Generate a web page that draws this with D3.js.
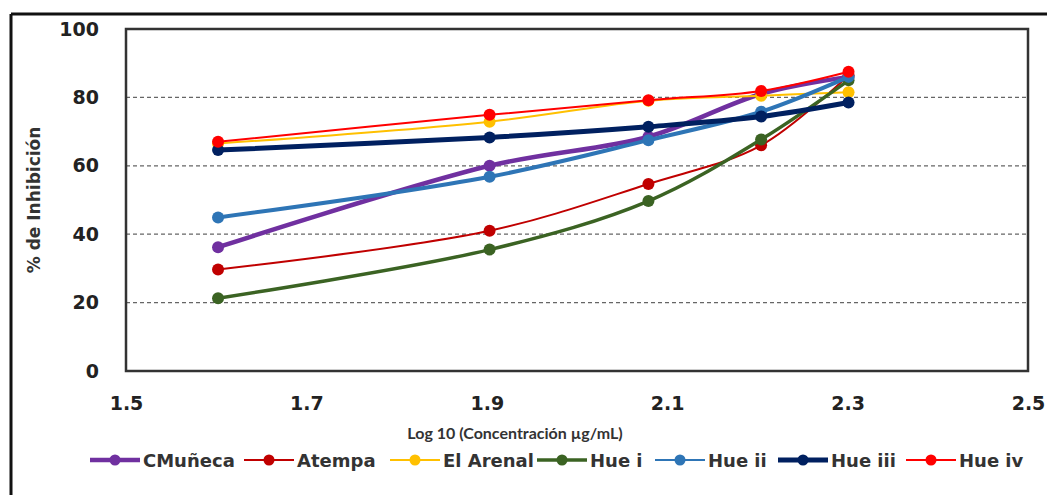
<!DOCTYPE html>
<html>
<head>
<meta charset="utf-8">
<script src="https://cdn.jsdelivr.net/npm/d3@7"></script>
<style>
  body { margin: 0; background: #fff; }
  svg { display: block; font-family: "DejaVu Sans", sans-serif; }
</style>
</head>
<body>
<svg width="1047" height="495"></svg>
<script>
// concentrations (µg/mL) -> log10 on x axis
const concentrations = [40, 80, 120, 160, 200];
const seriesNames = ["CMuñeca", "Atempa", "El Arenal", "Hue i", "Hue ii", "Hue iii", "Hue iv"];
const cMuneca = [36.2, 60.0, 68.5, 81.0, 86.0];
const atempa = [29.7, 41.0, 54.7, 66.0, 86.5];
const elArenal = [66.5, 72.9, 79.0, 80.5, 81.5];
const hueI = [21.3, 35.5, 49.7, 67.7, 85.0];
const hueII = [44.9, 56.8, 67.5, 75.8, 86.0];
const hueIII = [64.6, 68.3, 71.4, 74.4, 78.5];
const hueIV = [67.0, 74.9, 79.2, 81.9, 87.5];
const xTicks = [1.5, 1.7, 1.9, 2.1, 2.3, 2.5];
const yTicks = [0, 20, 40, 60, 80, 100];

const seriesValues = [cMuneca, atempa, elArenal, hueI, hueII, hueIII, hueIV];
const colors = ["#7030A0", "#C00000", "#FFC000", "#3B6323", "#2E75B6", "#002060", "#FF0000"];
const widths = [4.5, 2, 2, 3.5, 4, 5, 2];
const legendWidths = [4.5, 2, 2, 3.5, 2, 5, 2];

const svg = d3.select("svg");
const margin = { top: 29, right: 19, bottom: 124, left: 126 };
const width = 1047, height = 495;

// outer frame (only left and top edges visible)
svg.append("line").attr("x1", 11).attr("x2", 1047).attr("y1", 14).attr("y2", 14)
    .attr("stroke", "#111").attr("stroke-width", 3);
svg.append("line").attr("x1", 11).attr("x2", 11).attr("y1", 14).attr("y2", 495)
    .attr("stroke", "#111").attr("stroke-width", 3);

const x = d3.scaleLinear().domain([1.5, 2.5]).range([margin.left, width - margin.right]);
const y = d3.scaleLinear().domain([0, 100]).range([height - margin.bottom, margin.top]);

// dashed gridlines
svg.append("g").selectAll("line")
    .data(yTicks.filter(d => d > 0 && d < 100))
    .enter().append("line")
    .attr("x1", x(1.5)).attr("x2", x(2.5))
    .attr("y1", d => y(d)).attr("y2", d => y(d))
    .attr("stroke", "#666").attr("stroke-width", 1.2)
    .attr("stroke-dasharray", "4,3");

// plot area border
svg.append("rect")
    .attr("x", x(1.5)).attr("y", y(100))
    .attr("width", x(2.5) - x(1.5)).attr("height", y(0) - y(100))
    .attr("fill", "none").attr("stroke", "#333").attr("stroke-width", 2.5);

// axes (labels only)
const yAxis = svg.append("g")
    .attr("transform", `translate(${margin.left},0)`)
    .call(d3.axisLeft(y).tickValues(yTicks).tickSize(0).tickPadding(27))
    .attr("font-family", "DejaVu Sans");
yAxis.select(".domain").remove();
yAxis.selectAll("text").style("font-size", "19px").style("font-weight", "bold").attr("fill", "#222");

const xAxis = svg.append("g")
    .attr("transform", `translate(0,${height - margin.bottom})`)
    .call(d3.axisBottom(x).tickValues(xTicks).tickFormat(d3.format(".1f")).tickSize(0).tickPadding(26))
    .attr("font-family", "DejaVu Sans");
xAxis.select(".domain").remove();
xAxis.selectAll("text").style("font-size", "19px").style("font-weight", "bold").attr("fill", "#222");

// axis titles
svg.append("text")
    .attr("transform", "rotate(-90)")
    .attr("x", -(y(50)))
    .attr("y", 40)
    .attr("text-anchor", "middle")
    .style("font-size", "17px").style("font-weight", "bold").attr("fill", "#333")
    .text("% de Inhibición");

svg.append("text")
    .attr("x", 515)
    .attr("y", 439)
    .attr("text-anchor", "middle")
    .style("font-family", "Lato, sans-serif")
    .style("font-size", "16px").style("font-weight", "bold").attr("fill", "#333")
    .text("Log 10 (Concentración µg/mL)");

// series
const line = d3.line()
    .x(d => x(d.x))
    .y(d => y(d.y))
    .curve(d3.curveCatmullRom.alpha(0.5));

seriesValues.forEach((vals, i) => {
    const pts = vals.map((v, j) => ({ x: Math.log10(concentrations[j]), y: v }));
    const g = svg.append("g");
    g.append("path")
        .datum(pts)
        .attr("fill", "none")
        .attr("stroke", colors[i])
        .attr("stroke-width", widths[i])
        .attr("d", line);
    g.selectAll("circle")
        .data(pts)
        .enter().append("circle")
        .attr("cx", d => x(d.x))
        .attr("cy", d => y(d.y))
        .attr("r", 6)
        .attr("fill", colors[i]);
});

// legend
const legendX = [90, 244, 390, 537, 655, 778, 906];
const legendY = 460;
const legend = svg.append("g");
seriesNames.forEach((name, i) => {
    const lx = legendX[i];
    legend.append("line")
        .attr("x1", lx).attr("x2", lx + 50)
        .attr("y1", legendY).attr("y2", legendY)
        .attr("stroke", colors[i]).attr("stroke-width", legendWidths[i]);
    legend.append("circle")
        .attr("cx", lx + 25).attr("cy", legendY).attr("r", 5.5)
        .attr("fill", colors[i]);
    legend.append("text")
        .attr("x", lx + 53).attr("y", legendY + 6.5)
        .style("font-size", "18px").style("font-weight", "bold").attr("fill", "#333")
        .text(name);
});
</script>
</body>
</html>
